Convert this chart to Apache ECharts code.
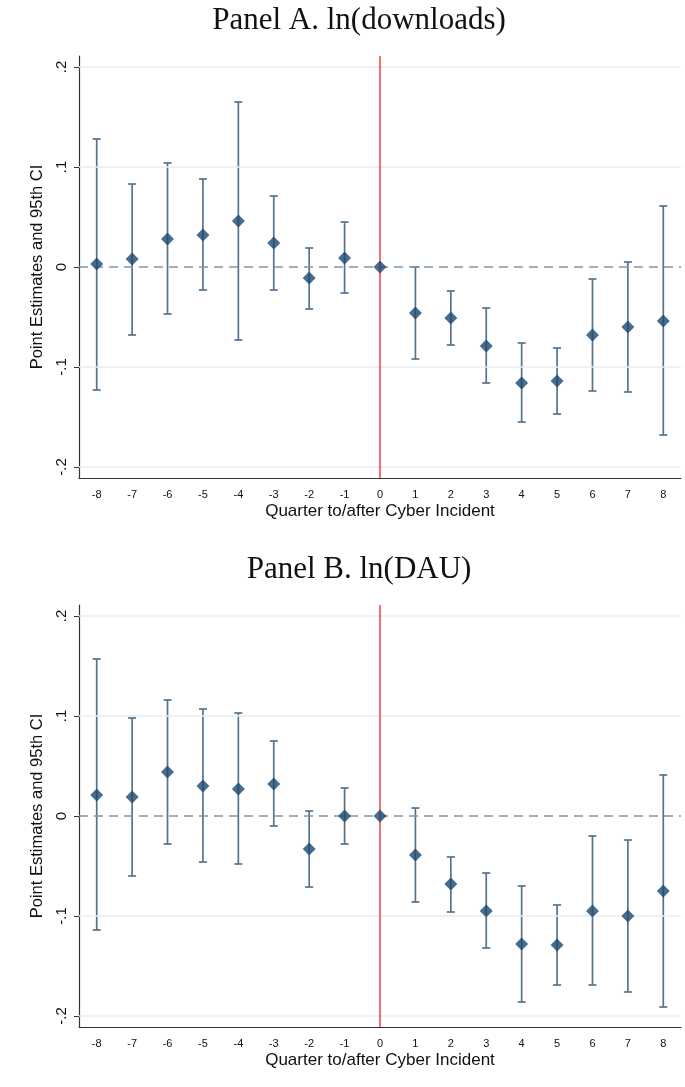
<!DOCTYPE html>
<html>
<head>
<meta charset="utf-8">
<script src="https://cdn.jsdelivr.net/npm/echarts@6/dist/echarts.min.js"></script>
<style>
  html, body { margin: 0; padding: 0; background: #fff; }
  #main { width: 685px; height: 1087px; }
</style>
</head>
<body>
<div id="main"></div>
<script>
// quarters relative to the incident
var quarters = ['-8','-7','-6','-5','-4','-3','-2','-1','0','1','2','3','4','5','6','7','8'];

// Panel A: ln(downloads)
var estA = [0.003, 0.008, 0.028, 0.032, 0.046, 0.024, -0.011, 0.009, 0, -0.046, -0.051, -0.079, -0.116, -0.114, -0.068, -0.060, -0.054];
var loA  = [-0.123, -0.068, -0.047, -0.023, -0.073, -0.023, -0.042, -0.026, 0, -0.092, -0.078, -0.116, -0.155, -0.147, -0.124, -0.125, -0.168];
var hiA  = [0.128, 0.083, 0.104, 0.088, 0.165, 0.071, 0.019, 0.045, 0, 0.000, -0.024, -0.041, -0.076, -0.081, -0.012, 0.005, 0.061];

// Panel B: ln(DAU)
var estB = [0.021, 0.019, 0.044, 0.030, 0.027, 0.032, -0.033, 0, 0, -0.039, -0.068, -0.095, -0.128, -0.129, -0.095, -0.100, -0.075];
var loB  = [-0.114, -0.060, -0.028, -0.046, -0.048, -0.010, -0.071, -0.028, 0, -0.086, -0.096, -0.132, -0.186, -0.169, -0.169, -0.176, -0.191];
var hiB  = [0.157, 0.098, 0.116, 0.107, 0.103, 0.075, 0.005, 0.028, 0, 0.008, -0.041, -0.057, -0.070, -0.089, -0.020, -0.024, 0.041];

var yTicks = [-0.2, -0.1, 0, 0.1, 0.2];

var navy = '#1a476f';
var barColor = '#55738f';

var myChart = echarts.init(document.getElementById('main'));

function fmtY(v) {
  if (Math.abs(v) < 1e-9) return '0';
  return v.toFixed(1).replace('0.', '.');
}

function ciData(lo, hi) {
  return quarters.map(function (q, i) { return [i, lo[i], hi[i]]; });
}

// vertical CI bar with small caps
function renderCI(params, api) {
  var x = api.value(0);
  var lo = api.coord([x, api.value(1)]);
  var hi = api.coord([x, api.value(2)]);
  if (Math.abs(lo[1] - hi[1]) < 0.5) return null;
  var cap = 4;
  var st = { stroke: barColor, lineWidth: 1.7 };
  return {
    type: 'group',
    children: [
      { type: 'line', shape: { x1: lo[0], y1: lo[1], x2: hi[0], y2: hi[1] }, style: st },
      { type: 'line', shape: { x1: hi[0] - cap, y1: hi[1], x2: hi[0] + cap, y2: hi[1] }, style: st },
      { type: 'line', shape: { x1: lo[0] - cap, y1: lo[1], x2: lo[0] + cap, y2: lo[1] }, style: st }
    ]
  };
}

function xAxisFor(gi) {
  return {
    type: 'category',
    gridIndex: gi,
    data: quarters,
    boundaryGap: true,
    name: 'Quarter to/after Cyber Incident',
    nameLocation: 'middle',
    nameGap: 25,
    nameTextStyle: { fontFamily: 'Liberation Sans', fontSize: 17, color: '#111' },
    axisLine: { onZero: false, lineStyle: { color: '#333', width: 1.2 } },
    axisTick: { alignWithLabel: true, length: 5, lineStyle: { color: '#333' } },
    axisLabel: { fontFamily: 'Liberation Sans', fontSize: 11, color: '#111', margin: 11 },
    splitLine: { show: false }
  };
}

function yAxisFor(gi) {
  return {
    type: 'value',
    gridIndex: gi,
    min: -0.211,
    max: 0.211,
    name: 'Point Estimates and 95th CI',
    nameLocation: 'middle',
    nameRotate: 90,
    nameGap: 23,
    nameTextStyle: { fontFamily: 'Liberation Sans', fontSize: 16.5, color: '#111' },
    axisLine: { show: true, lineStyle: { color: '#333', width: 1.2 } },
    axisTick: { show: true, length: 5, customValues: yTicks, lineStyle: { color: '#333' } },
    axisLabel: { customValues: yTicks, rotate: 90, formatter: fmtY, fontFamily: 'Liberation Sans', fontSize: 15, color: '#111', margin: 10 },
    splitLine: { show: false }
  };
}

function gridLines() {
  return {
    silent: true,
    symbol: 'none',
    label: { show: false },
    data: [
      { yAxis: -0.2, lineStyle: { color: '#e6eef0', width: 1.5, type: 'solid' } },
      { yAxis: -0.1, lineStyle: { color: '#e6eef0', width: 1.5, type: 'solid' } },
      { yAxis: 0.1, lineStyle: { color: '#e6eef0', width: 1.5, type: 'solid' } },
      { yAxis: 0.2, lineStyle: { color: '#e6eef0', width: 1.5, type: 'solid' } },
      { yAxis: 0, lineStyle: { color: '#7f95ab', width: 1.5, type: [9, 6] } },
      { xAxis: '0', lineStyle: { color: '#ff3b3b', width: 1.5, type: 'solid' } }
    ]
  };
}

function seriesFor(gi, est, lo, hi) {
  return [
    {
      type: 'custom',
      xAxisIndex: gi,
      yAxisIndex: gi,
      renderItem: renderCI,
      data: ciData(lo, hi),
      z: 3,
      markLine: gridLines()
    },
    {
      type: 'scatter',
      xAxisIndex: gi,
      yAxisIndex: gi,
      symbol: 'diamond',
      symbolSize: 13,
      itemStyle: { color: navy },
      data: est,
      z: 5
    }
  ];
}

var option = {
  backgroundColor: '#fff',
  animation: false,
  title: [
    { text: 'Panel A. ln(downloads)', left: 354, textAlign: 'center', top: 0,
      textStyle: { fontFamily: 'Liberation Serif', fontWeight: 'normal', fontSize: 31, color: '#111' } },
    { text: 'Panel B. ln(DAU)', left: 354, textAlign: 'center', top: 549,
      textStyle: { fontFamily: 'Liberation Serif', fontWeight: 'normal', fontSize: 31, color: '#111' } }
  ],
  grid: [
    { left: 79, right: 4, top: 56, height: 422 },
    { left: 79, right: 4, top: 605, height: 422 }
  ],
  xAxis: [xAxisFor(0), xAxisFor(1)],
  yAxis: [yAxisFor(0), yAxisFor(1)],
  series: seriesFor(0, estA, loA, hiA).concat(seriesFor(1, estB, loB, hiB))
};

myChart.setOption(option);
</script>
</body>
</html>
